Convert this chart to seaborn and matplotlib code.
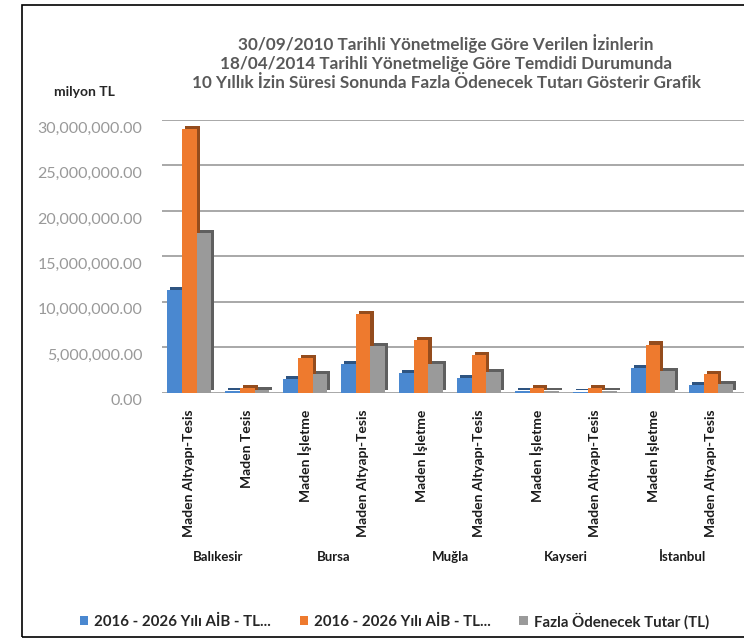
import matplotlib
matplotlib.use("Agg")
import matplotlib.pyplot as plt
import matplotlib.patheffects as pe
import matplotlib.transforms as mtransforms
from matplotlib.patches import Patch, Rectangle
from matplotlib.ticker import FuncFormatter
import seaborn as sns
import pandas as pd

# ---------------- data ----------------
provinces = ["Balıkesir", "Balıkesir", "Bursa", "Bursa", "Muğla", "Muğla",
             "Kayseri", "Kayseri", "İstanbul", "İstanbul"]
types = ["Maden Altyapı-Tesis", "Maden Tesis", "Maden İşletme", "Maden Altyapı-Tesis",
         "Maden İşletme", "Maden Altyapı-Tesis", "Maden İşletme", "Maden Altyapı-Tesis",
         "Maden İşletme", "Maden Altyapı-Tesis"]
aib_2010 = [11.3e6, 0.15e6, 1.5e6, 3.2e6, 2.2e6, 1.6e6, 0.2e6, 0.1e6, 2.7e6, 0.85e6]
aib_2014 = [29.0e6, 0.5e6, 3.8e6, 8.7e6, 5.8e6, 4.1e6, 0.55e6, 0.5e6, 5.3e6, 2.1e6]
fazla = [17.6e6, 0.25e6, 2.1e6, 5.1e6, 3.2e6, 2.3e6, 0.2e6, 0.15e6, 2.4e6, 1.0e6]
series_keys = ["aib_2010", "aib_2014", "fazla"]
legend_labels = ["2016 - 2026 Yılı AİB - TL...", "2016 - 2026 Yılı AİB - TL...",
                 "Fazla Ödenecek Tutar (TL)"]
colors = ["#4a88d0", "#ee7a2e", "#9a9a9a"]
title = ("30/09/2010 Tarihli Yönetmeliğe Göre Verilen İzinlerin\n"
         "18/04/2014 Tarihli Yönetmeliğe Göre Temdidi Durumunda\n"
         "10 Yıllık İzin Süresi Sonunda Fazla Ödenecek Tutarı Gösterir Grafik")
y_ticks = [0, 5e6, 10e6, 15e6, 20e6, 25e6, 30e6]

keys = [f"{p}|{i}" for i, p in enumerate(provinces)]
rows = []
for s, vals in zip(series_keys, [aib_2010, aib_2014, fazla]):
    for k, v in zip(keys, vals):
        rows.append({"key": k, "series": s, "value": v})
df = pd.DataFrame(rows)

# ---------------- figure ----------------
sns.set_theme(style="white")
plt.rcParams["font.family"] = ["Lato", "DejaVu Sans"]

W, H = 744, 643
fig = plt.figure(figsize=(W / 100, H / 100), dpi=100)
ax = fig.add_axes([162 / W, (H - 392.7) / H, (W - 162) / W, 272.7 / H])

sns.barplot(data=df, x="key", y="value", hue="series", order=keys,
            hue_order=series_keys, palette=colors, saturation=1, width=0.76,
            legend=False, ax=ax, errorbar=None)

for p in ax.patches:
    p.set_linewidth(0)
    p.set_path_effects([pe.SimplePatchShadow(offset=(2.2, 2.2), alpha=1, rho=0.62),
                        pe.Normal()])

ax.set_ylim(0, 30e6)
ax.set_xlim(-0.47, 9.57)
ax.set_yticks(y_ticks)
ax.yaxis.set_major_formatter(FuncFormatter(lambda v, _: f"{v:,.2f}"))
ax.yaxis.grid(True, color="#a8a8a8", lw=1.4)
ax.set_axisbelow(True)
for s in ax.spines.values():
    s.set_visible(False)
ax.set_xlabel("")
ax.set_ylabel("")

ax.set_xticks(range(len(keys)))
ax.set_xticklabels(types, rotation=90, fontsize=10, fontweight="bold", color="#1a1a1a")
ax.tick_params(axis="x", length=0, pad=12)
ax.tick_params(axis="y", length=0, pad=14, labelsize=11.5, labelcolor="#999999")
off = mtransforms.ScaledTranslation(0, -7 / 100, fig.dpi_scale_trans)
for lab in ax.get_yticklabels():
    lab.set_transform(lab.get_transform() + off)

# group labels
trans = mtransforms.blended_transform_factory(ax.transData, fig.transFigure)
seen = []
for p in provinces:
    if p not in seen:
        seen.append(p)
for p in seen:
    idx = [i for i, q in enumerate(provinces) if q == p]
    ax.text(sum(idx) / len(idx), (H - 557) / H, p, transform=trans, ha="center",
            va="center", fontsize=9.5, fontweight="bold", color="#1a1a1a")

# title and unit label
fig.text(446 / W, (H - 62.5) / H, title, ha="center", va="center", fontsize=12.3,
         fontweight="bold", color="#595959", linespacing=1.22)
fig.text(84 / W, (H - 92) / H, "milyon TL", ha="center", va="center", fontsize=10,
         fontweight="bold", color="#262626")

# legend
handles = [Patch(facecolor=c, edgecolor="none") for c in colors]
fig.legend(handles, legend_labels, loc="center left", bbox_to_anchor=(80 / W, (H - 621) / H),
           ncol=3, frameon=False, handlelength=0.55, handleheight=0.55, handletextpad=0.4,
           columnspacing=1.9, prop={"size": 10.8, "weight": "bold"}, labelcolor="#262626",
           borderaxespad=0, borderpad=0)

# outer frame (cut at right edge)
fig.add_artist(Rectangle((22 / W, 6 / H), 1.0, (H - 11) / H, transform=fig.transFigure,
                         fill=False, edgecolor="black", lw=1.2, clip_on=False))

fig.savefig("out.png", dpi=100, facecolor="white")
